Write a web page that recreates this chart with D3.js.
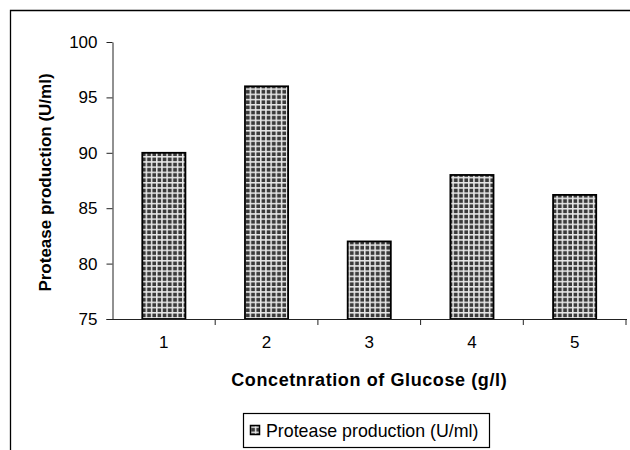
<!DOCTYPE html>
<html><head><meta charset="utf-8">
<script src="https://cdn.jsdelivr.net/npm/d3@7/dist/d3.min.js"></script>
<style>body{margin:0;background:#fff}svg{display:block}text{font-family:Arial,"Liberation Sans",sans-serif}</style>
</head><body>
<script>
const categories = ["1","2","3","4","5"];
const values = [90, 96, 82, 88, 86.2];
const yTicks = [75, 80, 85, 90, 95, 100];
const seriesName = "Protease production (U/ml)";
const xTitle = "Concetnration of Glucose (g/l)";
const yTitle = "Protease production (U/ml)";

(function(){
const W = 630, H = 450;
const svg = d3.select("body").append("svg").attr("width", W).attr("height", H);

const defs = svg.append("defs");
const pat = defs.append("pattern").attr("id","grid").attr("patternUnits","userSpaceOnUse")
  .attr("width",5.2).attr("height",5.2);
pat.append("rect").attr("width",5.2).attr("height",5.2).attr("fill","#3a3a3a");
pat.append("rect").attr("x",0).attr("y",0).attr("width",5.2).attr("height",1.5).attr("fill","#e8e8e8");
pat.append("rect").attr("x",0).attr("y",0).attr("width",1.5).attr("height",5.2).attr("fill","#e8e8e8");

// outer frame (only top and left visible)
svg.append("path").attr("d","M10.5,450 V10.5 H630").attr("fill","none").attr("stroke","#000").attr("stroke-width",1.3);

const pl = 112.5, pr = 626, pt = 42, pb = 319;
const x = d3.scaleBand().domain(categories).range([pl, pr]).paddingInner(0.58).paddingOuter(0.29);
const xb = d3.scaleBand().domain(categories).range([pl, pr]).padding(0);
const y = d3.scaleLinear().domain([75, 100]).range([pb, pt]);

// bars
svg.append("g").selectAll("rect").data(values).join("rect")
  .attr("x",(d,i)=>x(categories[i]))
  .attr("y",d=>y(d))
  .attr("width",x.bandwidth())
  .attr("height",d=>y(75)-y(d))
  .attr("fill","url(#grid)")
  .attr("stroke","#000").attr("stroke-width",1.8);

// y axis
const ya = svg.append("g").attr("transform",`translate(${pl},0)`)
  .call(d3.axisLeft(y).tickValues(yTicks).tickSize(6).tickPadding(9).tickSizeOuter(0));
ya.select(".domain").attr("stroke","#222");
ya.selectAll(".tick line").attr("stroke","#222");
ya.selectAll("text").attr("font-size",17).attr("fill","#000").style("font-family","Arial, 'Liberation Sans', sans-serif");

// x axis
const xa = svg.append("g").attr("transform",`translate(0,${pb})`);
xa.append("line").attr("x1",pl-6).attr("x2",pr+1).attr("y1",0.5).attr("y2",0.5).attr("stroke","#222");
const bounds = categories.map(c=>xb(c)+xb.bandwidth());
xa.selectAll("line.tk").data(bounds).join("line").attr("class","tk")
  .attr("x1",d=>d).attr("x2",d=>d).attr("y1",0).attr("y2",6).attr("stroke","#222");
xa.selectAll("text").data(categories).join("text")
  .attr("x",c=>xb(c)+xb.bandwidth()/2).attr("y",29)
  .attr("text-anchor","middle").attr("font-size",17).text(c=>c);

// axis titles
svg.append("text").attr("x",(pl+pr)/2).attr("y",386).attr("text-anchor","middle")
  .attr("font-size",18).attr("letter-spacing",0.6).attr("font-weight","bold").text(xTitle);
svg.append("text").attr("transform",`translate(51,${(pt+pb)/2+2}) rotate(-90)`).attr("text-anchor","middle")
  .attr("font-size",17).attr("font-weight","bold").text(yTitle);

// legend
const lg = svg.append("g");
lg.append("rect").attr("x",243.5).attr("y",413.5).attr("width",246).attr("height",34)
  .attr("fill","#fff").attr("stroke","#000").attr("stroke-width",1.2);
lg.append("rect").attr("x",250.5).attr("y",425.5).attr("width",9).attr("height",9)
  .attr("fill","url(#grid)").attr("stroke","#000").attr("stroke-width",1.5);
lg.append("text").attr("x",266).attr("y",437).attr("font-size",17.8).text(seriesName);
})();
</script>
</body></html>
